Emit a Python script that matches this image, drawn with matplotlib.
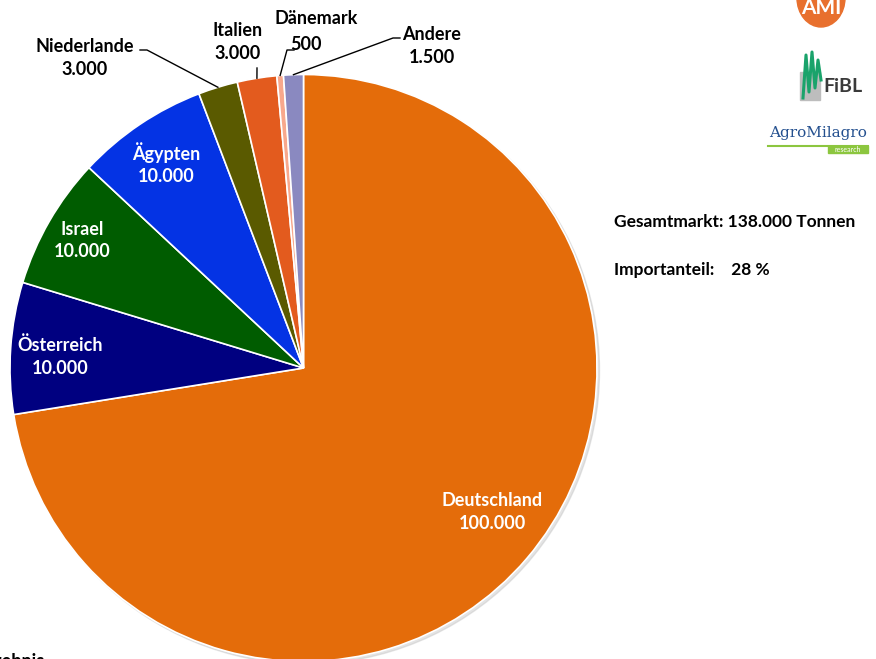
import numpy as np
import matplotlib.pyplot as plt
from matplotlib.patches import Circle, Ellipse, Rectangle

# Daten (Tonnen)
laender = ['Deutschland', 'Österreich', 'Israel', 'Ägypten',
           'Niederlande', 'Italien', 'Dänemark', 'Andere']
mengen = [100000, 10000, 10000, 10000, 3000, 3000, 500, 1500]
wert_labels = ['100.000', '10.000', '10.000', '10.000',
               '3.000', '3.000', '500', '1.500']
farben = ['#E46C0A', '#000080', '#005C00', '#0433E4',
          '#5A5A00', '#E35B1E', '#F8A88C', '#8A89C0']

gesamt_text = 'Gesamtmarkt: 138.000 Tonnen'
import_text = 'Importanteil:    28 %'

W, H = 876, 659
FS = 13
plt.rcParams['font.family'] = ['Lato', 'DejaVu Sans']

fig = plt.figure(figsize=(W / 100, H / 100), dpi=100)
ax = fig.add_axes([0, 0, 1, 1])

cx, cy, r = 303.5, H - 368, 293.5

# leichter Schatten
ax.add_patch(Circle((cx + 2.5, cy - 2.5), r, color='#c4c4c4', alpha=0.45, zorder=0))

wedges, _ = ax.pie(mengen, colors=farben, startangle=90, counterclock=False,
                   center=(cx, cy), radius=r, frame=True,
                   wedgeprops=dict(edgecolor='white', linewidth=1.2))
ax.set_xlim(0, W)
ax.set_ylim(0, H)
ax.axis('off')

def mid_angle(w):
    return np.deg2rad((w.theta1 + w.theta2) / 2)

# innere Beschriftungen (weiß)
innen = {0: (0.80, 10, 8), 1: (0.83, 0, -5), 2: (0.87, 0, 0), 3: (0.84, 0, 0)}
for i, (frac, dx, dy) in innen.items():
    a = mid_angle(wedges[i])
    x = cx + r * frac * np.cos(a) + dx
    y = cy + r * frac * np.sin(a) + dy
    ax.text(x, y, laender[i] + '\n' + wert_labels[i], color='white',
            fontsize=FS, fontweight='bold', ha='center', va='center',
            linespacing=1.4)

# äußere Beschriftungen mit Führungslinien
aussen = {
    4: dict(txt=(85, H - 58), knick=[(140, H - 50), (147, H - 50)]),
    5: dict(txt=(238, H - 42), knick=[(257, H - 68)]),
    6: dict(txt=(316, H - 31), knick=[(294, H - 50), (287, H - 50)]),
    7: dict(txt=(432, H - 46), knick=[(400, H - 38), (393, H - 38)]),
}
for i, d in aussen.items():
    a = mid_angle(wedges[i])
    ex = cx + r * np.cos(a)
    ey = cy + r * np.sin(a)
    pts = d['knick'] + [(ex, ey)]
    ax.plot([p[0] for p in pts], [p[1] for p in pts], color='black', lw=1)
    if i == 6:
        ax.text(d['txt'][0], d['txt'][1] + 13, laender[i], fontsize=FS,
                fontweight='bold', ha='center', va='center')
        ax.text(d['txt'][0] - 10, d['txt'][1] - 14, wert_labels[i], fontsize=FS,
                fontweight='bold', ha='center', va='center')
    else:
        ax.text(d['txt'][0], d['txt'][1], laender[i] + '\n' + wert_labels[i],
                fontsize=FS, fontweight='bold', ha='center', va='center',
                linespacing=1.4)

# Kennzahlen rechts
ax.text(614, H - 222, gesamt_text, fontsize=12.5, fontweight='bold', va='center')
ax.text(614, H - 270, import_text, fontsize=12.5, fontweight='bold', va='center')

# abgeschnittener Text unten links
ax.text(45, H - 661, 'Ergebnis', fontsize=FS, fontweight='bold',
        ha='right', va='center')

# Logos (vereinfacht)
ax.add_patch(Ellipse((821, H + 2), 48, 58, color='#E8702E', zorder=3))
ax.text(821, H - 8, 'AMI', color='white', fontsize=15, fontweight='bold',
        ha='center', va='center', zorder=4)

ax.add_patch(Rectangle((800, H - 100), 20, 28, color='#bdbdbd', zorder=3))
zx = [803, 806, 809, 812, 815, 818, 821]
zy = [H - 98, H - 55, H - 92, H - 52, H - 88, H - 60, H - 80]
ax.plot(zx, zy, color='#1AA36B', lw=2.2, zorder=4)
ax.text(823, H - 86, 'FiBL', color='#3a3a3a', fontsize=14, fontweight='bold',
        va='center', zorder=4)

ax.text(818, H - 133, 'AgroMilagro', family='DejaVu Serif', color='#24508F',
        fontsize=11, ha='center', va='center')
ax.plot([768, 868], [H - 146, H - 146], color='#8CC63F', lw=1.5)
ax.add_patch(Rectangle((828, H - 153), 40, 7, color='#8CC63F'))
ax.text(848, H - 149.5, 'research', color='white', fontsize=5,
        ha='center', va='center')

fig.savefig('out.png', dpi=100)
